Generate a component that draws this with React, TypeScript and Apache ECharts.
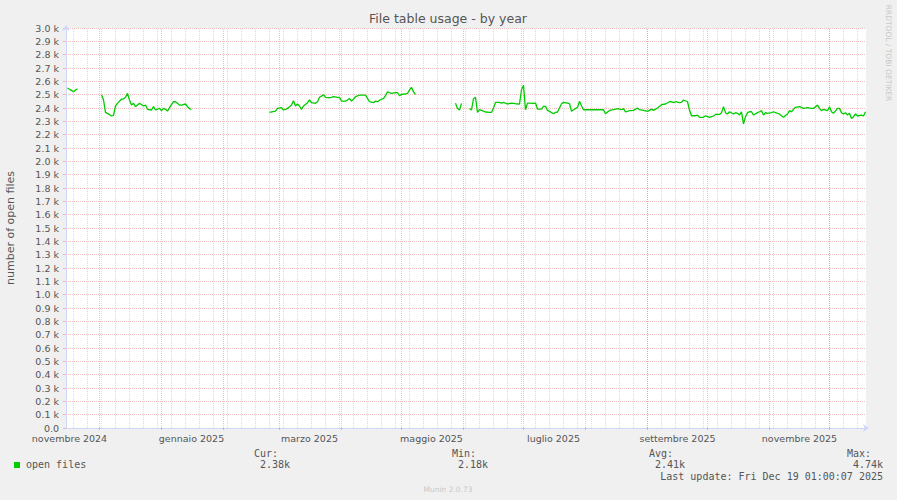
import React, { useEffect, useRef } from "react";
import * as echarts from "echarts";

const chartTitle = "File table usage - by year";
const yAxisName = "number of open files";
const seriesName = "open files";
const seriesColor = "#00cc00";
const watermark = "RRDTOOL / TOBI OETIKER";
const footer = "Munin 2.0.73";
const lastUpdate = "Last update: Fri Dec 19 01:00:07 2025";

// visible time range of the graph (400 days, Munin "by year")
const rangeStart = "2024-11-14T06";
const rangeDays = 400;

const yMin = 0;
const yMax = 3000;
const yStep = 100;

const monthLabelStarts = ["2024-11-01", "2025-01-01", "2025-03-01", "2025-05-01", "2025-07-01", "2025-09-01", "2025-11-01"];
const monthLabelTexts = ["novembre 2024", "gennaio 2025", "marzo 2025", "maggio 2025", "luglio 2025", "settembre 2025", "novembre 2025"];

const statNames = ["Cur:", "Min:", "Avg:", "Max:"];
const statValues = ["2.38k", "2.18k", "2.41k", "4.74k"];

const dates: string[] = [
  "2024-11-15", "2024-11-16", "2024-11-17", "2024-11-18", "2024-11-19", "2024-11-20", "2024-11-21",
  "2024-12-02", "2024-12-03", "2024-12-04", "2024-12-06", "2024-12-07", "2024-12-08", "2024-12-09", "2024-12-10",
  "2024-12-12", "2024-12-13", "2024-12-14", "2024-12-15", "2024-12-16", "2024-12-17", "2024-12-18", "2024-12-19",
  "2024-12-21", "2024-12-23", "2024-12-24", "2024-12-25", "2024-12-27", "2024-12-28", "2024-12-29", "2024-12-31",
  "2025-01-01", "2025-01-02", "2025-01-03", "2025-01-04", "2025-01-05", "2025-01-07", "2025-01-08", "2025-01-10",
  "2025-01-11", "2025-01-13", "2025-01-14", "2025-01-15", "2025-01-16", "2025-01-17",
  "2025-02-24", "2025-02-27", "2025-02-28", "2025-03-02", "2025-03-03", "2025-03-04", "2025-03-05", "2025-03-07",
  "2025-03-08", "2025-03-09", "2025-03-10", "2025-03-11", "2025-03-12", "2025-03-13", "2025-03-15", "2025-03-16",
  "2025-03-17", "2025-03-19", "2025-03-20", "2025-03-21", "2025-03-23", "2025-03-24", "2025-03-26", "2025-03-27",
  "2025-03-28", "2025-03-30", "2025-03-31", "2025-04-01", "2025-04-03", "2025-04-04", "2025-04-05", "2025-04-06",
  "2025-04-07", "2025-04-08", "2025-04-10", "2025-04-13", "2025-04-14", "2025-04-15", "2025-04-17", "2025-04-18",
  "2025-04-19", "2025-04-21", "2025-04-22", "2025-04-23", "2025-04-24", "2025-04-25", "2025-04-26", "2025-04-28",
  "2025-04-29", "2025-04-30", "2025-05-01", "2025-05-03", "2025-05-04", "2025-05-05", "2025-05-06", "2025-05-07",
  "2025-05-08", "2025-05-09",
  "2025-05-28", "2025-05-29", "2025-05-30", "2025-05-31", "2025-06-01",
  "2025-06-04", "2025-06-05", "2025-06-06", "2025-06-07", "2025-06-08", "2025-06-09", "2025-06-10", "2025-06-12",
  "2025-06-14", "2025-06-15", "2025-06-16", "2025-06-17", "2025-06-19", "2025-06-20", "2025-06-21", "2025-06-23",
  "2025-06-25", "2025-06-27", "2025-06-29", "2025-06-30", "2025-07-01", "2025-07-02", "2025-07-03", "2025-07-04",
  "2025-07-06", "2025-07-07", "2025-07-08", "2025-07-10", "2025-07-11", "2025-07-12", "2025-07-13", "2025-07-14",
  "2025-07-16", "2025-07-17", "2025-07-18", "2025-07-20", "2025-07-21", "2025-07-23", "2025-07-24", "2025-07-25",
  "2025-07-26", "2025-07-28", "2025-07-29", "2025-07-30", "2025-07-31", "2025-08-10", "2025-08-11", "2025-08-13",
  "2025-08-15", "2025-08-17", "2025-08-19", "2025-08-20", "2025-08-21", "2025-08-23", "2025-08-25", "2025-08-27",
  "2025-08-28", "2025-08-30", "2025-09-01", "2025-09-03", "2025-09-04", "2025-09-06", "2025-09-08", "2025-09-10",
  "2025-09-12", "2025-09-13", "2025-09-14", "2025-09-15", "2025-09-17", "2025-09-18", "2025-09-19", "2025-09-21",
  "2025-09-22", "2025-09-23", "2025-09-25", "2025-09-26", "2025-09-27", "2025-09-29", "2025-09-30", "2025-10-02",
  "2025-10-03", "2025-10-04", "2025-10-05", "2025-10-07", "2025-10-08", "2025-10-09", "2025-10-10", "2025-10-11",
  "2025-10-12", "2025-10-14", "2025-10-15", "2025-10-16", "2025-10-17", "2025-10-18", "2025-10-19", "2025-10-20",
  "2025-10-21", "2025-10-22", "2025-10-23", "2025-10-24", "2025-10-26", "2025-10-27", "2025-10-28", "2025-10-29",
  "2025-10-30", "2025-10-31", "2025-11-02", "2025-11-03", "2025-11-04", "2025-11-06", "2025-11-07", "2025-11-08",
  "2025-11-10", "2025-11-11", "2025-11-12", "2025-11-13", "2025-11-14", "2025-11-16", "2025-11-17", "2025-11-18",
  "2025-11-20", "2025-11-22", "2025-11-23", "2025-11-25", "2025-11-26", "2025-11-27", "2025-11-28", "2025-11-30",
  "2025-12-01", "2025-12-02", "2025-12-03", "2025-12-05", "2025-12-06", "2025-12-07", "2025-12-08", "2025-12-09",
  "2025-12-10", "2025-12-11", "2025-12-12", "2025-12-13", "2025-12-14", "2025-12-15", "2025-12-17", "2025-12-18",
  "2025-12-19",
];

const openFiles: (number | null)[] = [
  2550, 2540, 2532, 2522, 2535, 2543, null,
  2500, 2460, 2367, 2350, 2340, 2345, 2415, 2435,
  2467, 2467, 2480, 2510, 2460, 2422, 2435, 2410,
  2435, 2415, 2422, 2390, 2385, 2410, 2385, 2397,
  2380, 2397, 2390, 2377, 2402, 2447, 2447, 2422,
  2422, 2430, 2410, 2395, 2390, null,
  2367, 2377, 2397, 2402, 2385, 2390, 2397, 2422,
  2455, 2415, 2430, 2415, 2390, 2415, 2440, 2460,
  2440, 2435, 2447, 2480, 2500, 2480, 2477, 2480,
  2485, 2480, 2480, 2452, 2452, 2460, 2472, 2452,
  2465, 2485, 2497, 2497, 2472, 2447, 2440, 2452,
  2447, 2467, 2470, 2492, 2522, 2515, 2510, 2515,
  2515, 2492, 2502, 2505, 2510, 2535, 2555, 2522,
  2500, null,
  2435, 2397, 2385, 2435, null,
  2397, 2385, 2470, 2480, 2367, 2387, 2382, 2370,
  2367, 2367, 2400, 2442, 2442, 2437, 2442, 2430,
  2437, 2432, 2430, 2537, 2570, 2387, 2437, 2437,
  2435, 2437, 2392, 2392, 2412, 2412, 2382, 2375,
  2357, 2367, 2370, 2432, 2442, 2437, 2432, 2375,
  2387, 2405, 2450, 2417, 2387, 2387, 2357, 2382,
  2387, 2395, 2387, 2395, 2370, 2380, 2382, 2400,
  2387, 2382, 2375, 2392, 2382, 2400, 2425, 2430,
  2447, 2447, 2440, 2447, 2440, 2442, 2460, 2447,
  2385, 2342, 2342, 2347, 2330, 2330, 2342, 2330,
  2335, 2340, 2352, 2352, 2365, 2410, 2365, 2355,
  2372, 2355, 2365, 2360, 2347, 2372, 2280, 2335,
  2365, 2372, 2372, 2347, 2365, 2372, 2380, 2347,
  2365, 2360, 2365, 2372, 2365, 2355, 2342, 2330,
  2355, 2380, 2372, 2390, 2405, 2410, 2405, 2397,
  2402, 2397, 2397, 2422, 2397, 2380, 2390, 2380,
  2410, 2372, 2360, 2397, 2397, 2365, 2355, 2365,
  2347, 2360, 2322, 2335, 2355, 2340, 2347, 2340,
  2372,
];

const DAY = 86400000;
function ts(s: string): number {
  const [d, h] = s.split("T");
  const [y, m, dd] = d.split("-").map(Number);
  return Date.UTC(y, m - 1, dd, h ? Number(h) : 0);
}

const FONT = "DejaVu Sans";
const MONO = "DejaVu Sans Mono";
const TEXT = "#555555";
const AXIS = "#cfd6f8";
const MAJOR = "rgba(222,79,79,0.36)";
const MINOR = "rgba(143,143,143,0.32)";

export default function App() {
  const ref = useRef<HTMLDivElement>(null);
  useEffect(() => {
    if (!ref.current) return;
    const chart = echarts.init(ref.current, null, { renderer: "svg" });
    const xMin = ts(rangeStart);
    const xMax = xMin + rangeDays * DAY;

    const data = dates.map((d, i) => [ts(d), openFiles[i] == null ? "-" : openFiles[i]]);

    const minorStyle = { color: MINOR, type: [1, 1], width: 1 };
    const majorStyle = { color: MAJOR, type: [1, 1], width: 1 };

    // weekly (Monday) minor grid and monthly major grid, as vertical segments through the axes
    const weekPts: any[] = [];
    let w = ts("2024-11-18");
    while (w < xMax) {
      if (w > xMin) weekPts.push([w, yMin], [w, yMax], [w, "-"]);
      w += 7 * DAY;
    }
    const monthPts: any[] = [];
    const monthTicks: number[] = [];
    for (let k = 0; k < 16; k++) {
      const t = Date.UTC(2024, 10 + k, 1);
      if (t > xMin && t < xMax) {
        monthPts.push([t, yMin], [t, yMax], [t, "-"]);
        monthTicks.push(t);
      }
    }

    const labelValues = monthLabelStarts.map((s) => ts(s) + 15 * DAY);
    const labelMap = new Map<number, string>();
    labelValues.forEach((v, i) => labelMap.set(v, monthLabelTexts[i]));

    const statX = [254, 452, 649, 847];

    const graphic: any[] = [
      {
        type: "text", x: 448, y: 18,
        style: { text: chartTitle, fill: TEXT, fontSize: 12.5, fontFamily: FONT, textAlign: "center", textVerticalAlign: "middle" },
      },
      {
        type: "text", x: 10, y: 228, rotation: Math.PI / 2,
        style: { text: yAxisName, fill: TEXT, fontSize: 11, fontFamily: FONT, textAlign: "center", textVerticalAlign: "middle" },
      },
      {
        type: "text", x: 888, y: 53, rotation: -Math.PI / 2,
        style: { text: watermark, fill: "#c8c8c8", fontSize: 7.5, fontFamily: FONT, textAlign: "center", textVerticalAlign: "middle" },
      },
      { type: "rect", shape: { x: 14, y: 462, width: 6, height: 6 }, style: { fill: seriesColor } },
      {
        type: "text", x: 26, y: 464,
        style: { text: seriesName, fill: TEXT, fontSize: 10, fontFamily: MONO, textAlign: "left", textVerticalAlign: "middle" },
      },
      {
        type: "text", x: 883, y: 476.5,
        style: { text: lastUpdate, fill: TEXT, fontSize: 10, fontFamily: MONO, textAlign: "right", textVerticalAlign: "middle" },
      },
      {
        type: "text", x: 448, y: 489,
        style: { text: footer, fill: "#c8c8c8", fontSize: 7.5, fontFamily: FONT, textAlign: "center", textVerticalAlign: "middle" },
      },
    ];
    statNames.forEach((n, i) => {
      graphic.push({
        type: "text", x: statX[i], y: 453,
        style: { text: n, fill: TEXT, fontSize: 10, fontFamily: MONO, textAlign: "left", textVerticalAlign: "middle" },
      });
      graphic.push({
        type: "text", x: statX[i] + 6, y: 464.5,
        style: { text: statValues[i], fill: TEXT, fontSize: 10, fontFamily: MONO, textAlign: "left", textVerticalAlign: "middle" },
      });
    });

    chart.setOption({
      animation: false,
      backgroundColor: "#f0f0f0",
      grid: { left: 66, right: 31, top: 28, bottom: 72, show: true, backgroundColor: "#ffffff", borderWidth: 0 },
      graphic,
      xAxis: {
        type: "value",
        min: xMin,
        max: xMax,
        splitLine: { show: false },
        axisTick: {
          show: true,
          customValues: monthTicks,
          length: 2,
          lineStyle: { color: MAJOR, width: 1 },
        },
        axisLine: {
          show: true,
          lineStyle: { color: AXIS, width: 1 },
          symbol: ["none", "arrow"],
          symbolSize: [6, 6],
          symbolOffset: [0, 3],
        },
        axisLabel: {
          customValues: labelValues,
          formatter: (v: number) => labelMap.get(v) ?? "",
          color: TEXT,
          fontSize: 9.5,
          fontFamily: FONT,
          margin: 5,
        },
      },
      yAxis: {
        type: "value",
        min: yMin,
        max: yMax,
        interval: yStep,
        axisLine: {
          show: true,
          lineStyle: { color: AXIS, width: 1 },
          symbol: ["none", "arrow"],
          symbolSize: [6, 6],
          symbolOffset: [0, 3],
        },
        axisTick: { show: true, length: 3, lineStyle: { color: MAJOR, width: 1 } },
        splitLine: { show: true, lineStyle: majorStyle },
        axisLabel: {
          formatter: (v: number) => (v === 0 ? "0.0" : (v / 1000).toFixed(1) + " k"),
          color: TEXT,
          fontSize: 9.5,
          fontFamily: FONT,
          margin: 7,
        },
      },
      series: [
        {
          type: "line",
          name: "weeks",
          data: weekPts,
          z: 1,
          silent: true,
          showSymbol: false,
          connectNulls: false,
          lineStyle: minorStyle,
          itemStyle: { color: MINOR },
        },
        {
          type: "line",
          name: "months",
          data: monthPts,
          z: 2,
          silent: true,
          showSymbol: false,
          connectNulls: false,
          lineStyle: majorStyle,
          itemStyle: { color: MAJOR },
        },
        {
          type: "line",
          name: seriesName,
          data,
          z: 5,
          showSymbol: false,
          connectNulls: false,
          lineStyle: { color: seriesColor, width: 1.3 },
          itemStyle: { color: seriesColor },
        },
      ],
    });
    return () => chart.dispose();
  }, []);
  return <div ref={ref} style={{ position: "fixed", left: 0, top: 0, width: 897, height: 500 }} />;
}
